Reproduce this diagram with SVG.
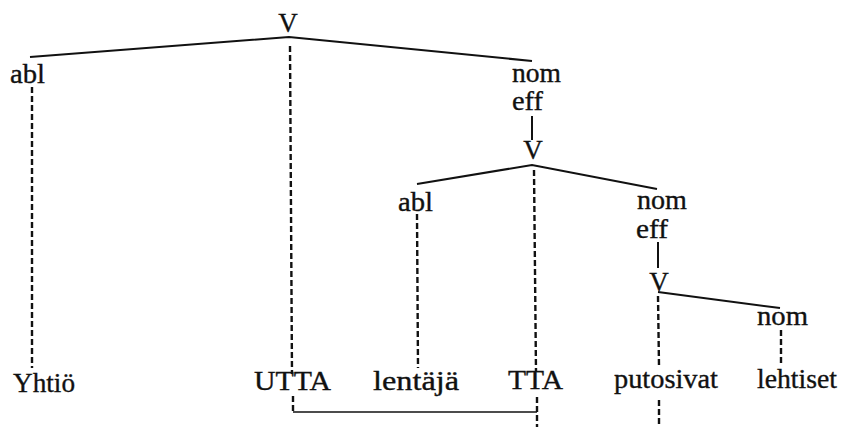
<svg xmlns="http://www.w3.org/2000/svg" width="841" height="427" viewBox="0 0 841 427">
<style>
text{font-family:'Liberation Serif','DejaVu Serif','Times New Roman',serif;font-size:27px;fill:#111;stroke:#111;stroke-width:0.35}
.s{stroke:#111;stroke-width:2;fill:none}
.d{stroke:#111;stroke-width:2.4;fill:none;stroke-dasharray:6 3}
.t{stroke:#111;stroke-width:1.5;fill:none}
</style>
<rect width="841" height="427" fill="#fff"/>
<g id="connectors">
<path class="s" d="M30 57 L289 37 L532 61"/>
<path class="s" d="M532 116 V140"/>
<path class="s" d="M417 184 L532 165 L657 189"/>
<path class="s" d="M658 242 V268"/>
<path class="s" d="M658 292 L780 308"/>
<path class="d" d="M32 87 V368"/>
<path class="d" d="M290 46 L292 374"/>
<path class="d" d="M293 396 V411"/>
<path class="t" d="M293 412 H537"/>
<path class="d" d="M534 170 L536 372"/>
<path class="d" d="M537 397 V427"/>
<path class="d" d="M417 214 L418 368"/>
<path class="d" d="M658 296 L659 366"/>
<path class="d" d="M659 400 V427"/>
<path class="d" d="M781 330 V366"/>
</g>
<g id="V1"><text x="288" y="32" text-anchor="middle">V</text></g>
<g id="abl1"><text x="10" y="83" textLength="35" lengthAdjust="spacingAndGlyphs">abl</text></g>
<g id="nomeff1"><text x="512" y="82" textLength="49" lengthAdjust="spacingAndGlyphs">nom</text><text x="512" y="110" textLength="31" lengthAdjust="spacingAndGlyphs">eff</text></g>
<g id="V2"><text x="533" y="159" text-anchor="middle">V</text></g>
<g id="abl2"><text x="398" y="211" textLength="35" lengthAdjust="spacingAndGlyphs">abl</text></g>
<g id="nomeff2"><text x="637" y="209" textLength="50" lengthAdjust="spacingAndGlyphs">nom</text><text x="636" y="238" textLength="32" lengthAdjust="spacingAndGlyphs">eff</text></g>
<g id="V3"><text x="659" y="291" text-anchor="middle">V</text></g>
<g id="nom3"><text x="757" y="325" textLength="51" lengthAdjust="spacingAndGlyphs">nom</text></g>
<g id="Yhtio"><text x="13" y="392" textLength="62" lengthAdjust="spacingAndGlyphs">Yhtiö</text></g>
<g id="UTTA"><text x="254" y="390" textLength="77" lengthAdjust="spacingAndGlyphs">UTTA</text></g>
<g id="lentaja"><text x="373" y="390" textLength="86" lengthAdjust="spacingAndGlyphs">lentäjä</text></g>
<g id="TTA"><text x="508" y="389" textLength="55" lengthAdjust="spacingAndGlyphs">TTA</text></g>
<g id="putosivat"><text x="614" y="388" textLength="104" lengthAdjust="spacingAndGlyphs">putosivat</text></g>
<g id="lehtiset"><text x="757" y="388" textLength="80" lengthAdjust="spacingAndGlyphs">lehtiset</text></g>
</svg>
